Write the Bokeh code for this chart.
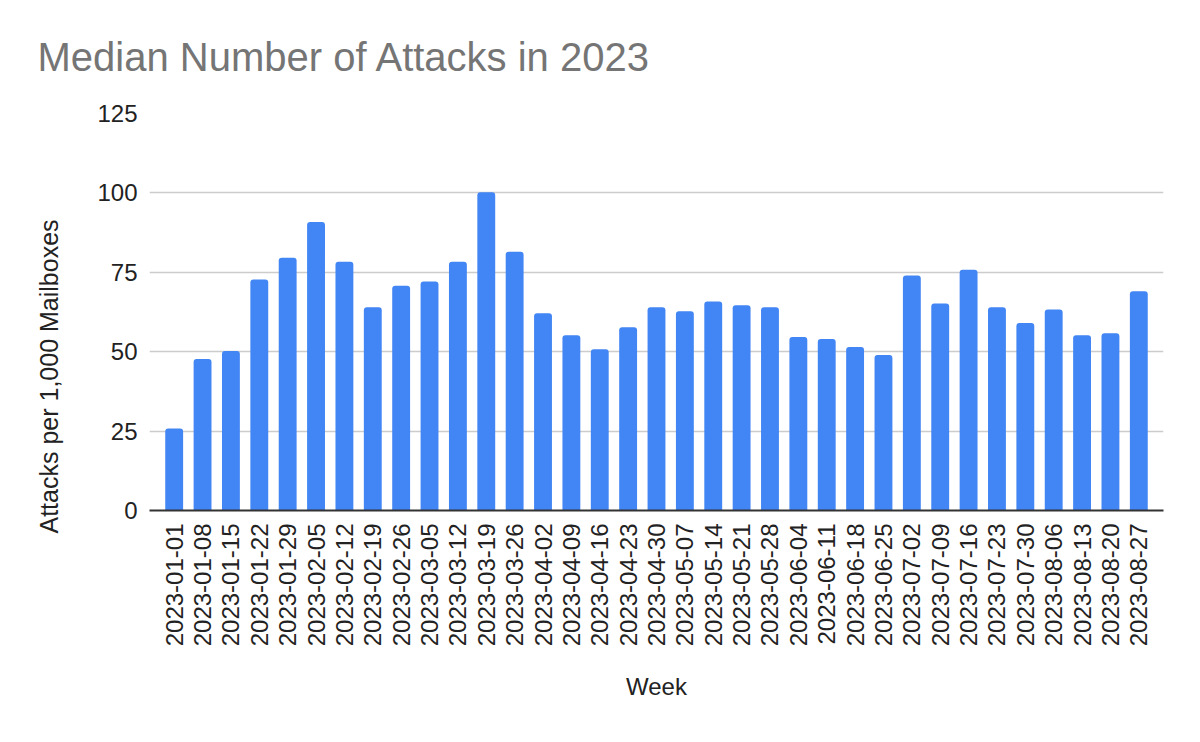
import math
from bokeh.plotting import figure
from bokeh.models import ColumnDataSource, FactorRange, FixedTicker, Title
from bokeh.embed import file_html
from bokeh.resources import INLINE

weeks = [
    "2023-01-01", "2023-01-08", "2023-01-15", "2023-01-22", "2023-01-29",
    "2023-02-05", "2023-02-12", "2023-02-19", "2023-02-26",
    "2023-03-05", "2023-03-12", "2023-03-19", "2023-03-26",
    "2023-04-02", "2023-04-09", "2023-04-16", "2023-04-23", "2023-04-30",
    "2023-05-07", "2023-05-14", "2023-05-21", "2023-05-28",
    "2023-06-04", "2023-06-11", "2023-06-18", "2023-06-25",
    "2023-07-02", "2023-07-09", "2023-07-16", "2023-07-23", "2023-07-30",
    "2023-08-06", "2023-08-13", "2023-08-20", "2023-08-27",
]
attacks = [
    25.8, 47.7, 50.2, 72.7, 79.6,
    90.8, 78.3, 64.0, 70.8,
    72.1, 78.3, 100.2, 81.5,
    62.1, 55.2, 50.8, 57.7, 64.0,
    62.7, 65.8, 64.6, 64.0,
    54.6, 54.0, 51.5, 49.0,
    74.0, 65.2, 75.8, 64.0, 59.0,
    63.3, 55.2, 55.8, 69.0,
]
y_ticks = [0, 25, 50, 75, 100, 125]

FONT = "Liberation Sans"

src = ColumnDataSource(dict(week=weeks, value=attacks))

PAD = 0.37
p = figure(
    width=1192, height=736,
    x_range=FactorRange(*weeks, range_padding=PAD, range_padding_units="absolute"),
    y_range=(0, 125),
    output_backend="svg", toolbar_location=None,
    min_border_left=148, min_border_right=29,
    min_border_top=113, min_border_bottom=226,
    title="Median Number of Attacks in 2023",
)
p.outline_line_color = None
p.background_fill_color = "white"
p.border_fill_color = "white"

p.title.text_font = FONT
p.title.text_font_size = "40px"
p.title.text_font_style = "normal"
p.title.text_color = "#757575"
p.title.align = "left"
p.title.offset = -112
p.title.standoff = 66
p.title.vertical_align = "top"

p.vbar(x="week", top="value", width=0.63, source=src,
       fill_color="#4285F4", line_color=None, border_radius=(3, 3, 0, 0))

p.xgrid.grid_line_color = None
p.ygrid.grid_line_color = "#cccccc"
p.ygrid.grid_line_width = 1.3
p.yaxis.ticker = FixedTicker(ticks=y_ticks)

p.yaxis.axis_line_color = None
p.yaxis.major_tick_line_color = None
p.yaxis.minor_tick_line_color = None
p.yaxis.major_label_text_font = FONT
p.yaxis.major_label_text_font_size = "24px"
p.yaxis.major_label_text_color = "#222222"
p.yaxis.major_label_standoff = 6

p.xaxis.axis_line_color = "#333333"
p.xaxis.axis_line_width = 2
p.xaxis.major_tick_line_color = None
p.xaxis.minor_tick_line_color = None
p.xaxis.major_label_orientation = math.pi / 2
p.xaxis.major_label_text_font = FONT
p.xaxis.major_label_text_font_size = "24px"
p.xaxis.major_label_text_color = "#222222"
p.xaxis.major_label_standoff = 7
p.xaxis.axis_label = "Week"
p.xaxis.axis_label_text_font = FONT
p.xaxis.axis_label_text_font_size = "24px"
p.xaxis.axis_label_text_font_style = "normal"
p.xaxis.axis_label_text_color = "#222222"
p.xaxis.axis_label_standoff = 24

ytitle = Title(text="Attacks per 1,000 Mailboxes", align="left", offset=-23,
               standoff=64, text_font=FONT, text_font_size="25px",
               text_font_style="normal", text_color="#222222")
p.add_layout(ytitle, "left")

open("out.html", "w").write(file_html(p, INLINE))
